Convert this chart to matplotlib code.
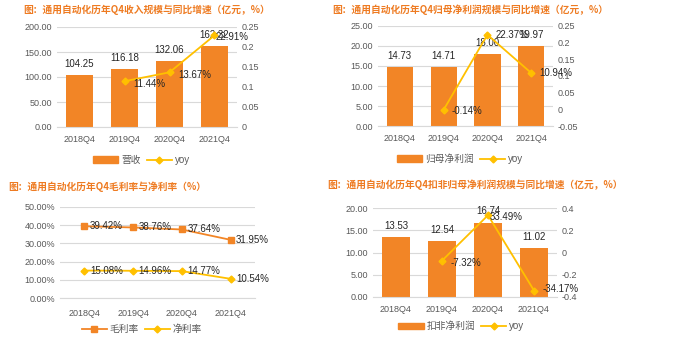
import matplotlib
matplotlib.use("Agg")
import matplotlib.pyplot as plt
from matplotlib.lines import Line2D
from matplotlib.patches import Patch
from matplotlib.ticker import FuncFormatter, MultipleLocator

plt.rcParams["font.family"] = ["Liberation Sans", "Noto Sans CJK SC", "DejaVu Sans"]
plt.rcParams["axes.unicode_minus"] = False

quarters = ["2018Q4", "2019Q4", "2020Q4", "2021Q4"]

revenue = [104.25, 116.18, 132.06, 162.32]
revenue_yoy = [None, 0.1144, 0.1367, 0.2291]

net_profit = [14.73, 14.71, 18.00, 19.97]
net_profit_yoy = [None, -0.0014, 0.2237, 0.1094]

gross_margin = [0.3942, 0.3876, 0.3764, 0.3195]
net_margin = [0.1508, 0.1496, 0.1477, 0.1054]

deducted_profit = [13.53, 12.54, 16.74, 11.02]
deducted_yoy = [None, -0.0732, 0.3349, -0.3417]

BAR = "#F28526"
LINE = "#FFC000"
TITLE = "#EE7B22"
GRID = "#D9D9D9"
TXT = "#595959"
W, H = 700, 344


def box(x0, x1, ytop, ybot):
    return [x0 / W, (H - ybot) / H, (x1 - x0) / W, (ybot - ytop) / H]


def style(ax):
    for s in ["top", "right", "left"]:
        ax.spines[s].set_visible(False)
    ax.spines["bottom"].set_color(GRID)
    ax.tick_params(length=0, labelsize=6.5, colors=TXT)
    ax.grid(axis="y", color=GRID, linewidth=0.8)
    ax.set_axisbelow(True)


def bar_panel(rect, vals, yoy, ymax, ystep, rlim, rstep, bar_name, yoy_offs, leg_x):
    ax = fig.add_axes(rect)
    style(ax)
    x = range(len(quarters))
    ax.bar(x, vals, width=0.6, color=BAR, zorder=2)
    ax.set_xlim(-0.5, 3.5)
    ax.set_ylim(0, ymax)
    ax.yaxis.set_major_locator(MultipleLocator(ystep))
    ax.yaxis.set_major_formatter(FuncFormatter(lambda v, p: f"{v:.2f}"))
    ax.set_xticks(list(x))
    ax.set_xticklabels(quarters)
    ax.tick_params(axis="x", pad=6)
    for i, v in enumerate(vals):
        ax.annotate(f"{v:.2f}", (i, v), xytext=(0, 8), textcoords="offset points",
                    ha="center", va="center", fontsize=7, color="#262626", zorder=5)

    ax2 = ax.twinx()
    for s in ["top", "right", "left", "bottom"]:
        ax2.spines[s].set_visible(False)
    ax2.tick_params(length=0, labelsize=6.5, colors=TXT)
    ax2.set_ylim(*rlim)
    ax2.yaxis.set_major_locator(MultipleLocator(rstep))
    ax2.yaxis.set_major_formatter(FuncFormatter(lambda v, p: f"{round(v, 2):g}"))
    xs = [i for i, v in enumerate(yoy) if v is not None]
    ys = [v for v in yoy if v is not None]
    ax2.plot(xs, ys, color=LINE, marker="D", markersize=3.5, linewidth=1.3, zorder=4)
    for i, v, off in zip(xs, ys, yoy_offs):
        ax2.annotate(f"{v * 100:.2f}%", (i, v), xytext=off, textcoords="offset points",
                     ha="left", va="center", fontsize=7, color="#262626", zorder=6)

    handles = [Patch(color=BAR), Line2D([], [], color=LINE, marker="D", markersize=3.5, linewidth=1.3)]
    ax.legend(handles, [bar_name, "yoy"], loc="center", bbox_to_anchor=(leg_x, -0.33),
              ncol=2, frameon=False, fontsize=7, handlelength=2.6, handleheight=0.7,
              columnspacing=0.6, handletextpad=0.3, labelcolor=TXT)
    return ax


fig = plt.figure(figsize=(W / 100, H / 100), dpi=100)

title_kw = dict(fontsize=7.0, fontweight="bold", color=TITLE, va="center", ha="left",
                family=["Noto Sans CJK SC", "DejaVu Sans"])
fig.text(23 / W, 1 - 10 / H, "图：通用自动化历年Q4收入规模与同比增速（亿元，%）", **title_kw)
fig.text(332 / W, 1 - 10 / H, "图：通用自动化历年Q4归母净利润规模与同比增速（亿元，%）", **title_kw)
fig.text(8 / W, 1 - 187 / H, "图：通用自动化历年Q4毛利率与净利率（%）", **title_kw)
fig.text(327 / W, 1 - 185 / H, "图：通用自动化历年Q4扣非归母净利润规模与同比增速（亿元，%）", **title_kw)

bar_panel(box(57, 237, 27, 127), revenue, revenue_yoy, 200, 50, (0, 0.25), 0.05,
          "营收", [(6, -2), (6, -2), (1, -1)], 0.47)
bar_panel(box(378, 553, 26, 126), net_profit, net_profit_yoy, 25, 5, (-0.05, 0.25), 0.05,
          "归母净利润", [(6, -1), (6, 0), (6, 0)], 0.47)
bar_panel(box(373, 557, 208, 297), deducted_profit, deducted_yoy, 20, 5, (-0.4, 0.4), 0.2,
          "扣非净利润", [(6, -2), (1, -1), (6, 1)], 0.48)

# margins panel
ax = fig.add_axes(box(60, 255, 207, 298))
style(ax)
x = range(len(quarters))
ax.plot(x, gross_margin, color=BAR, marker="s", markersize=4, linewidth=1.3, zorder=3)
ax.plot(x, net_margin, color=LINE, marker="D", markersize=3.5, linewidth=1.3, zorder=3)
for i in x:
    ax.annotate(f"{gross_margin[i] * 100:.2f}%", (i, gross_margin[i]), xytext=(4, 0),
                textcoords="offset points", ha="left", va="center", fontsize=7, color="#262626")
    ax.annotate(f"{net_margin[i] * 100:.2f}%", (i, net_margin[i]), xytext=(4, 0),
                textcoords="offset points", ha="left", va="center", fontsize=7, color="#262626")
ax.set_xlim(-0.5, 3.5)
ax.set_ylim(0, 0.5)
ax.yaxis.set_major_locator(MultipleLocator(0.1))
ax.yaxis.set_major_formatter(FuncFormatter(lambda v, p: f"{v * 100:.2f}%"))
ax.set_xticks(list(x))
ax.set_xticklabels(quarters)
ax.tick_params(axis="x", pad=8)
handles = [Line2D([], [], color=BAR, marker="s", markersize=4, linewidth=1.3),
           Line2D([], [], color=LINE, marker="D", markersize=3.5, linewidth=1.3)]
ax.legend(handles, ["毛利率", "净利率"], loc="center", bbox_to_anchor=(0.42, -0.34), ncol=2,
          frameon=False, fontsize=7, handlelength=2.6, columnspacing=0.6, handletextpad=0.3,
          labelcolor=TXT)

fig.savefig("out.png", dpi=100)
